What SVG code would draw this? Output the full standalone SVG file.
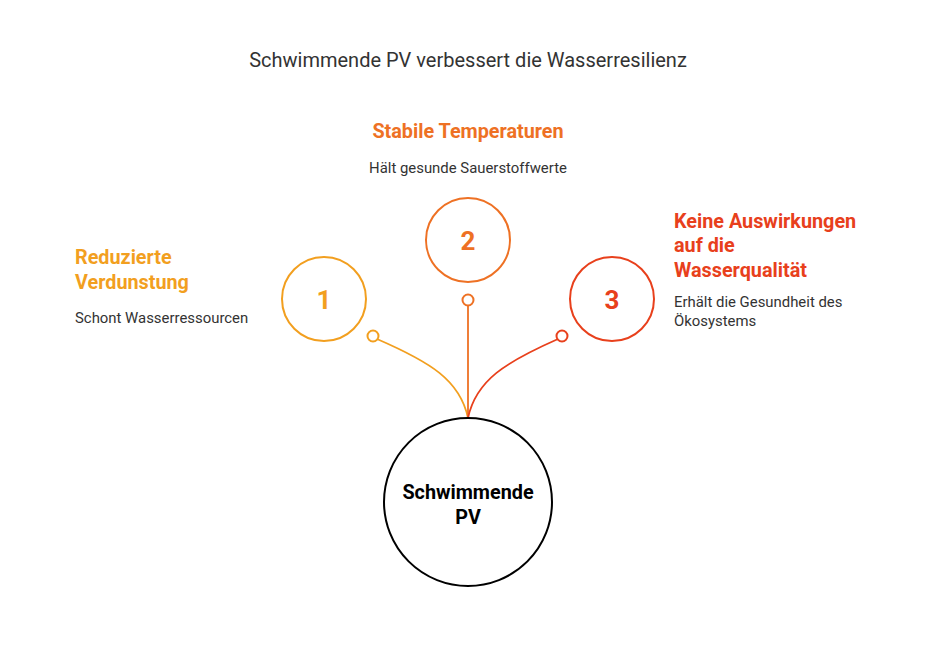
<svg xmlns="http://www.w3.org/2000/svg" width="936" height="659" viewBox="0 0 936 659">
<style>
text{font-family:Roboto,"Liberation Sans",sans-serif}
.h{font-size:19.8px;font-weight:bold}
.d{font-size:14.9px;fill:#333}
.n{font-size:26px;font-weight:bold;text-anchor:middle}
.c{fill:none;stroke-width:2}
.l{fill:none;stroke-width:1.8}
</style>
<rect width="936" height="659" fill="#fff"/>
<text x="468" y="67" text-anchor="middle" font-size="20" fill="#333">Schwimmende PV verbessert die Wasserresilienz</text>
<g id="connectors">
<path class="l" stroke="#F29F1F" d="M377,339 C430,362 460,380 468,418"/>
<path class="l" stroke="#EE7124" d="M468,305 L468,418"/>
<path class="l" stroke="#E8401C" d="M558,339 C506,362 476,380 468,418"/>
<circle class="c" stroke="#F29F1F" cx="373" cy="336" r="5.5" fill="#fff"/>
<circle class="c" stroke="#EE7124" cx="468" cy="300" r="5.5" fill="#fff"/>
<circle class="c" stroke="#E8401C" cx="562" cy="336" r="5.5" fill="#fff"/>
</g>
<g id="node1">
<circle class="c" stroke="#F29F1F" cx="324" cy="299" r="42"/>
<text class="n" x="324" y="309" fill="#F29F1F">1</text>
<text class="h" x="75" y="264" fill="#F29F1F">Reduzierte</text>
<text class="h" x="75" y="289" fill="#F29F1F">Verdunstung</text>
<text class="d" x="75" y="323">Schont Wasserressourcen</text>
</g>
<g id="node2">
<circle class="c" stroke="#EE7124" cx="468" cy="240" r="42"/>
<text class="n" x="468" y="250" fill="#EE7124">2</text>
<text class="h" x="468" y="138" text-anchor="middle" fill="#EE7124">Stabile Temperaturen</text>
<text class="d" x="468" y="173" text-anchor="middle">Hält gesunde Sauerstoffwerte</text>
</g>
<g id="node3">
<circle class="c" stroke="#E8401C" cx="612" cy="299" r="42"/>
<text class="n" x="612" y="309" fill="#E8401C">3</text>
<text class="h" x="674" y="228" fill="#E8401C">Keine Auswirkungen</text>
<text class="h" x="674" y="252" fill="#E8401C">auf die</text>
<text class="h" x="674" y="277" fill="#E8401C">Wasserqualität</text>
<text class="d" x="674" y="307">Erhält die Gesundheit des</text>
<text class="d" x="674" y="326">Ökosystems</text>
</g>
<g id="center">
<circle cx="468" cy="502" r="84" fill="#fff" stroke="#000" stroke-width="2"/>
<text x="468" y="499" text-anchor="middle" font-size="19.8" font-weight="bold">Schwimmende</text>
<text x="468" y="524" text-anchor="middle" font-size="19.8" font-weight="bold">PV</text>
</g>
</svg>
